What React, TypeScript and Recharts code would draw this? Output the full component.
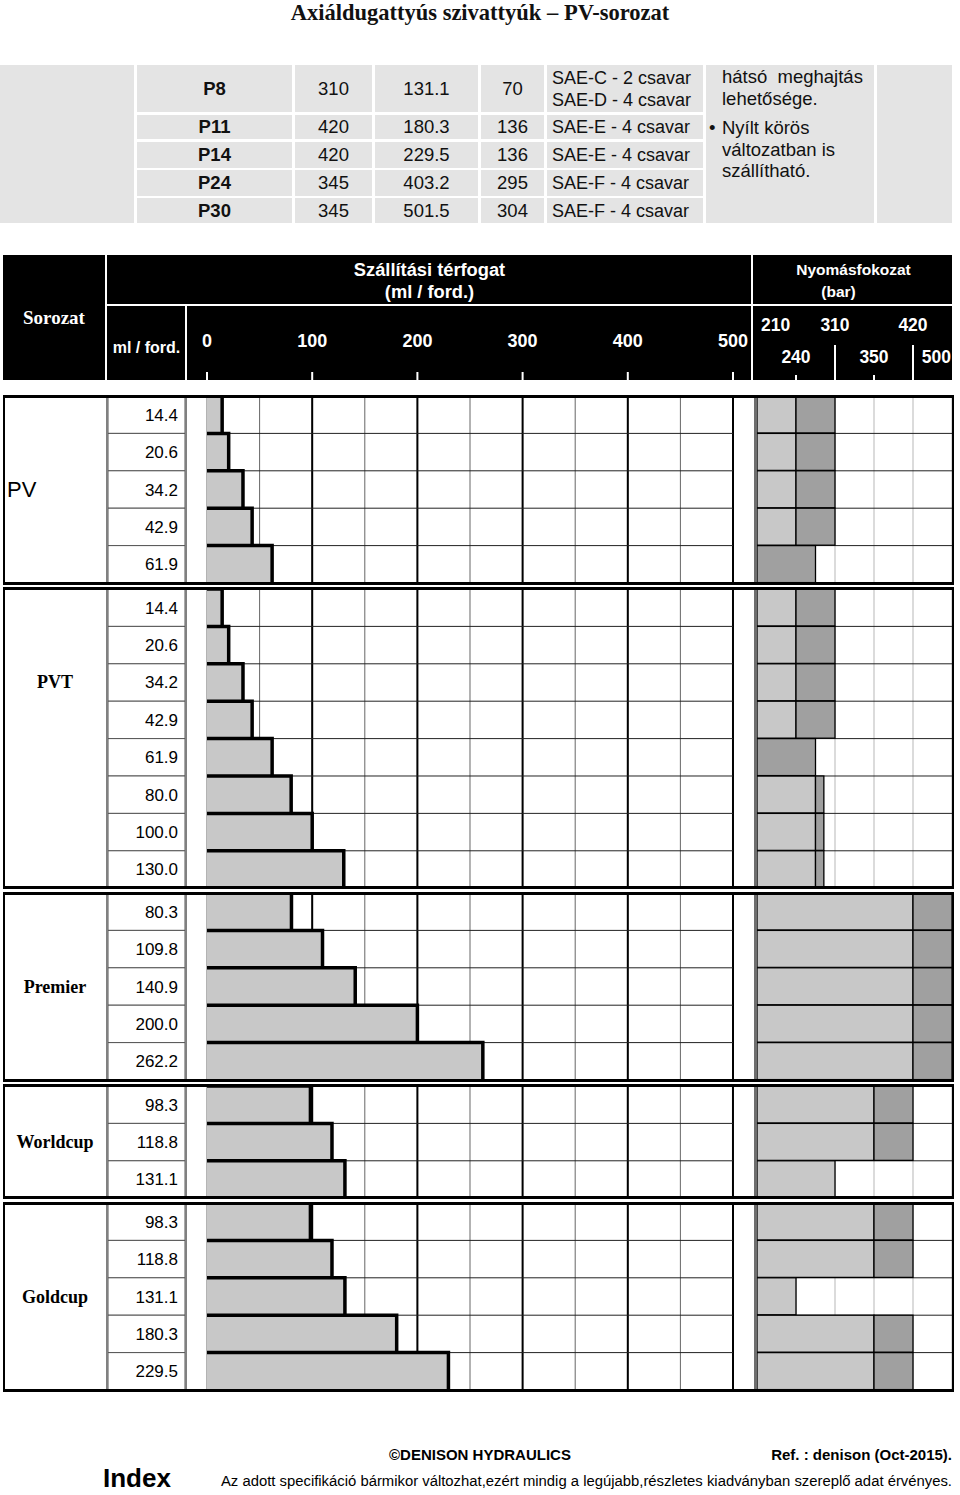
import React from "react";
import { BarChart, Bar, XAxis, YAxis, CartesianGrid } from "recharts";

// ---- data ----
const groupNames = ["PV", "PVT", "Premier", "Worldcup", "Goldcup"];

const pvDisp = [14.4, 20.6, 34.2, 42.9, 61.9];
const pvtDisp = [14.4, 20.6, 34.2, 42.9, 61.9, 80.0, 100.0, 130.0];
const premierDisp = [80.3, 109.8, 140.9, 200.0, 262.2];
const worldcupDisp = [98.3, 118.8, 131.1];
const goldcupDisp = [98.3, 118.8, 131.1, 180.3, 229.5];

// continuous / peak pressure (bar)
const pvCont = [240, 240, 240, 240, 0];
const pvPeak = [310, 310, 310, 310, 275];
const pvtCont = [240, 240, 240, 240, 0, 275, 275, 275];
const pvtPeak = [310, 310, 310, 310, 275, 290, 290, 290];
const premierCont = [420, 420, 420, 420, 420];
const premierPeak = [500, 500, 500, 500, 500];
const worldcupCont = [350, 350, 310];
const worldcupPeak = [420, 420, 310];
const goldcupCont = [350, 350, 240, 350, 350];
const goldcupPeak = [420, 420, 240, 420, 420];

const dispTicks = [0, 100, 200, 300, 400, 500];
const dispMajor = [100, 200, 300, 400, 500];
const dispMinor = [0, 50, 100, 150, 200, 250, 300, 350, 400, 450, 500];
const pressureSteps = [0, 240, 310, 350, 420, 500];
const pressureTopLabels = [210, 310, 420];
const pressureBottomLabels = [240, 350, 500];

const tableModels = ["P8", "P11", "P14", "P24", "P30"];
const tablePressure = ["310", "420", "420", "345", "345"];
const tableDisp = ["131.1", "180.3", "229.5", "403.2", "501.5"];
const tableTorque = ["70", "136", "136", "295", "304"];
const tableMount = [
  ["SAE-C - 2 csavar", "SAE-D - 4 csavar"],
  ["SAE-E - 4 csavar"],
  ["SAE-E - 4 csavar"],
  ["SAE-F - 4 csavar"],
  ["SAE-F - 4 csavar"],
];

// ---- layout ----
const SANS = '"Liberation Sans", Arial, sans-serif';
const SERIF = '"Liberation Serif", "Times New Roman", serif';
const ROW_H = 37.4;
const GAP = 5.5;
const FIRST_TOP = 396;
const LIGHT = "#c8c8c8";
const DARK = "#a0a0a0";

// position of a pressure on the column-based pressure axis
const pIdx = (p: number) => {
  for (let i = 1; i < pressureSteps.length; i++) {
    if (p <= pressureSteps[i]) {
      const a = pressureSteps[i - 1];
      const b = pressureSteps[i];
      return i - 1 + (p - a) / (b - a);
    }
  }
  return pressureSteps.length - 1;
};

const buildRows = (disp: number[], cont: number[], peak: number[]) =>
  disp.map((d, i) => ({
    label: d.toFixed(1),
    disp: d,
    lo: pIdx(cont[i]),
    hi: pIdx(peak[i]) - pIdx(cont[i]),
  }));

const groups = [
  { name: groupNames[0], rows: buildRows(pvDisp, pvCont, pvPeak), labelRows: 5 },
  { name: groupNames[1], rows: buildRows(pvtDisp, pvtCont, pvtPeak), labelRows: 5 },
  { name: groupNames[2], rows: buildRows(premierDisp, premierCont, premierPeak), labelRows: 5 },
  { name: groupNames[3], rows: buildRows(worldcupDisp, worldcupCont, worldcupPeak), labelRows: 3 },
  { name: groupNames[4], rows: buildRows(goldcupDisp, goldcupCont, goldcupPeak), labelRows: 5 },
];

const NoTick = () => <g />;

const DispBar = (p: any) => {
  const { x, y, width, height } = p;
  if (!width || width <= 0) return null;
  return (
    <g>
      <rect x={x} y={y} width={width} height={height} fill={LIGHT} />
      <path d={`M${x},${y} H${x + width} V${y + height}`} fill="none" stroke="#000" strokeWidth={3.5} />
    </g>
  );
};

const PressBar = (p: any) => {
  const { x, y, width, height, fill } = p;
  if (!width || width <= 0.01) return null;
  return <rect x={x} y={y} width={width} height={height} fill={fill} stroke="#000" strokeWidth={1.3} />;
};

const RowLine = (p: any) => {
  const { x, y, width } = p;
  return <line x1={x} x2={x + width} y1={y} y2={y} stroke="#222" strokeWidth={1} />;
};

const ValueCell = (p: any) => {
  const { y, payload, rowH } = p;
  return (
    <g>
      <rect x={0} y={y - rowH / 2} width={77} height={rowH} fill="#fff" stroke="#555" strokeWidth={1} />
      <text x={70} y={y + 6} textAnchor="end" fontFamily={SANS} fontSize={17} fill="#000">
        {payload.value}
      </text>
    </g>
  );
};

function DispChart({ rows, height }: { rows: any[]; height: number }) {
  const rowH = height / rows.length;
  return (
    <BarChart
      layout="vertical"
      width={629}
      height={height}
      data={rows}
      margin={{ top: 0, right: 4, bottom: 0, left: 0 }}
      barCategoryGap={0}
    >
      <XAxis type="number" domain={[0, 500]} ticks={dispMinor} height={0} tick={NoTick} axisLine={false} tickLine={false} interval={0} />
      <YAxis
        type="category"
        dataKey="label"
        width={99}
        axisLine={false}
        tickLine={false}
        interval={0}
        tick={(props: any) => <ValueCell {...props} rowH={rowH} />}
      />
      <CartesianGrid horizontal={false} verticalValues={dispMinor} stroke="#666" strokeWidth={1} />
      <CartesianGrid horizontal={false} verticalValues={dispMajor} stroke="#000" strokeWidth={2} />
      <Bar dataKey="disp" shape={<DispBar />} background={<RowLine />} isAnimationActive={false} />
    </BarChart>
  );
}

function PressChart({ rows, height }: { rows: any[]; height: number }) {
  return (
    <BarChart
      layout="vertical"
      width={197}
      height={height}
      data={rows}
      margin={{ top: 0, right: 2, bottom: 0, left: 0 }}
      barCategoryGap={0}
    >
      <XAxis type="number" domain={[0, 5]} ticks={[0, 1, 2, 3, 4, 5]} height={0} tick={NoTick} axisLine={false} tickLine={false} interval={0} />
      <YAxis type="category" dataKey="label" hide />
      <CartesianGrid horizontal={false} stroke="#cfcfcf" strokeWidth={1.5} />
      <Bar dataKey="lo" stackId="p" fill={LIGHT} shape={<PressBar />} background={<RowLine />} isAnimationActive={false} />
      <Bar dataKey="hi" stackId="p" fill={DARK} shape={<PressBar />} isAnimationActive={false} />
    </BarChart>
  );
}

const headerRow = [{ name: "", v: 0 }];
const pressureHeaderTicks = [...pressureTopLabels, ...pressureBottomLabels].sort((a, b) => a - b);

const DispHeaderTick = (p: any) => {
  const { x, payload } = p;
  return (
    <g>
      <text x={x} y={347} textAnchor="middle" fontFamily={SANS} fontWeight="bold" fontSize={18} fill="#fff">
        {payload.value}
      </text>
      <line x1={x} x2={x} y1={372} y2={380} stroke="#fff" strokeWidth={2} />
    </g>
  );
};

const PressHeaderTick = (p: any) => {
  const { x, index } = p;
  const v = pressureHeaderTicks[index];
  const topRow = pressureTopLabels.includes(v);
  const rowIdx = topRow ? pressureTopLabels.indexOf(v) : pressureBottomLabels.indexOf(v);
  const endAnchor = topRow ? rowIdx === 0 : rowIdx === pressureBottomLabels.length - 1;
  return (
    <g>
      <text
        x={endAnchor ? x - 1 : x}
        y={topRow ? 331 : 363}
        textAnchor={endAnchor ? "end" : "middle"}
        fontFamily={SANS}
        fontWeight="bold"
        fontSize={17.5}
        fill="#fff"
      >
        {v}
      </text>
      {topRow && rowIdx > 0 && <line x1={x} x2={x} y1={345} y2={380} stroke="#fff" strokeWidth={2} />}
      {!topRow && !endAnchor && <line x1={x} x2={x} y1={375} y2={380} stroke="#fff" strokeWidth={2} />}
    </g>
  );
};

const abs = (left: number, top: number, width: number, height: number, extra: React.CSSProperties = {}): React.CSSProperties => ({
  position: "absolute",
  left,
  top,
  width,
  height,
  boxSizing: "border-box",
  ...extra,
});

const tableCols = [
  [0, 134],
  [137, 292],
  [295, 372],
  [375, 478],
  [481, 544],
  [547, 703],
  [706, 874],
  [877, 952],
];
const tableRowsY = [
  [65, 112],
  [115, 139],
  [142, 168],
  [170, 196],
  [198, 223],
];

function TopTable() {
  const cellBg = "#e4e4e4";
  const txt: React.CSSProperties = { fontFamily: SANS, fontSize: 18.5, color: "#111" };
  const spanCols = [0, 6, 7];
  return (
    <>
      {spanCols.map((c) => (
        <div key={"s" + c} style={abs(tableCols[c][0], 65, tableCols[c][1] - tableCols[c][0], 158, { background: cellBg })} />
      ))}
      {tableRowsY.map(([y0, y1], r) => (
        <React.Fragment key={r}>
          {[1, 2, 3, 4, 5].map((c) => {
            const content =
              c === 1 ? tableModels[r] : c === 2 ? tablePressure[r] : c === 3 ? tableDisp[r] : c === 4 ? tableTorque[r] : null;
            return (
              <div
                key={c}
                style={abs(tableCols[c][0], y0, tableCols[c][1] - tableCols[c][0], y1 - y0, {
                  background: cellBg,
                  display: "flex",
                  alignItems: "center",
                  justifyContent: c === 5 ? "flex-start" : "center",
                  paddingLeft: c === 5 ? 5 : 0,
                  ...txt,
                  fontSize: c === 5 ? 18 : 18.5,
                  fontWeight: c === 1 ? "bold" : "normal",
                  lineHeight: "22px",
                })}
              >
                {c === 5 ? (
                  <div>
                    {tableMount[r].map((m) => (
                      <div key={m}>{m}</div>
                    ))}
                  </div>
                ) : (
                  content
                )}
              </div>
            );
          })}
        </React.Fragment>
      ))}
      <div style={abs(722, 66, 150, 160, { ...txt, lineHeight: "21.5px" })}>
        <div>hátsó&nbsp; meghajtás</div>
        <div>lehetősége.</div>
        <div style={{ marginTop: 8, position: "relative" }}>
          <span style={{ position: "absolute", left: -13 }}>•</span>Nyílt körös
        </div>
        <div>változatban is</div>
        <div>szállítható.</div>
      </div>
    </>
  );
}

function Header() {
  const white = "#fff";
  const hTxt: React.CSSProperties = { fontFamily: SANS, fontWeight: "bold", fontSize: 18.3, color: white, textAlign: "center", lineHeight: "22px" };
  return (
    <>
      <div style={abs(3, 255, 949, 125, { background: "#000" })} />
      <div style={abs(105, 255, 2, 125, { background: white })} />
      <div style={abs(751, 255, 2, 125, { background: white })} />
      <div style={abs(107, 304, 845, 2, { background: white })} />
      <div style={abs(185, 306, 2, 74, { background: white })} />
      <div style={abs(3, 307, 102, 24, { fontFamily: SERIF, fontWeight: "bold", fontSize: 19, color: white, textAlign: "center" })}>
        Sorozat
      </div>
      <div style={abs(108, 259, 643, 46, hTxt)}>
        <div>Szállítási térfogat</div>
        <div>(ml / ford.)</div>
      </div>
      <div style={abs(753, 259, 199, 46, { ...hTxt, fontSize: 15.5 })}>
        <div style={{ marginLeft: 2 }}>Nyomásfokozat</div>
        <div style={{ marginRight: 28 }}>(bar)</div>
      </div>
      <div style={abs(108, 337, 77, 22, { ...hTxt, fontSize: 16 })}>ml / ford.</div>
      <div style={abs(108, 0, 643, 380)}>
        <BarChart layout="vertical" width={643} height={380} data={headerRow} margin={{ top: 0, right: 18, bottom: 0, left: 99 }}>
          <XAxis type="number" domain={[0, 500]} ticks={dispTicks} height={1} axisLine={false} tickLine={false} tick={<DispHeaderTick />} interval={0} />
          <YAxis type="category" dataKey="name" hide />
          <Bar dataKey="v" fill="none" isAnimationActive={false} />
        </BarChart>
      </div>
      <div style={abs(757, 0, 197, 380)}>
        <BarChart layout="vertical" width={197} height={380} data={headerRow} margin={{ top: 0, right: 2, bottom: 0, left: 0 }}>
          <XAxis
            type="number"
            domain={[0, 5]}
            ticks={pressureHeaderTicks.map(pIdx)}
            height={1}
            axisLine={false}
            tickLine={false}
            tick={<PressHeaderTick />}
            interval={0}
          />
          <YAxis type="category" dataKey="name" hide />
          <Bar dataKey="v" fill="none" isAnimationActive={false} />
        </BarChart>
      </div>
    </>
  );
}

export default function App() {
  let top = FIRST_TOP;
  const placed = groups.map((g) => {
    const h = g.rows.length * ROW_H;
    const item = { ...g, top, h };
    top += h + GAP;
    return item;
  });

  return (
    <div style={{ position: "absolute", left: 0, top: 0, width: 960, height: 1495, background: "#fff", overflow: "hidden" }}>
      <div style={abs(0, 0, 960, 28, { fontFamily: SERIF, fontWeight: "bold", fontSize: 22.5, textAlign: "center", color: "#111" })}>
        Axiáldugattyús szivattyúk – PV-sorozat
      </div>

      <TopTable />
      <Header />

      {placed.map((g) => (
        <React.Fragment key={g.name}>
          <div style={abs(108, g.top, 629, g.h)}>
            <DispChart rows={g.rows} height={g.h} />
          </div>
          <div style={abs(757, g.top, 197, g.h)}>
            <PressChart rows={g.rows} height={g.h} />
          </div>
          <div style={abs(754, g.top, 3, g.h, { background: "#6e6e6e" })} />
          <div style={abs(106, g.top, 2, g.h, { background: "#808080" })} />
          <div style={abs(185, g.top, 2, g.h, { background: "#808080" })} />
          <div
            style={abs(
              4,
              g.top + (g.labelRows * ROW_H) / 2 - 14,
              102,
              28,
              g.name === "PV"
                ? { fontFamily: SANS, fontSize: 22, paddingLeft: 3, lineHeight: "28px" }
                : { fontFamily: SERIF, fontWeight: "bold", fontSize: 18, textAlign: "center", lineHeight: "28px" }
            )}
          >
            {g.name}
          </div>
          <div
            style={abs(3, g.top - 1.5, 951, g.h + 3, {
              borderTop: "3px solid #000",
              borderBottom: "3px solid #000",
              borderLeft: "2px solid #000",
              borderRight: "2.5px solid #000",
              pointerEvents: "none",
            })}
          />
        </React.Fragment>
      ))}

      <div style={abs(300, 1446, 360, 20, { fontFamily: SANS, fontWeight: "bold", fontSize: 15, textAlign: "center" })}>
        ©DENISON HYDRAULICS
      </div>
      <div style={abs(700, 1446, 252, 20, { fontFamily: SANS, fontWeight: "bold", fontSize: 15, textAlign: "right" })}>
        Ref. : denison (Oct-2015).
      </div>
      <div style={abs(103, 1463, 80, 34, { fontFamily: SANS, fontWeight: "bold", fontSize: 26 })}>Index</div>
      <div style={abs(200, 1473, 752, 20, { fontFamily: SANS, fontSize: 14.85, textAlign: "right", whiteSpace: "nowrap" })}>
        Az adott specifikáció bármikor változhat,ezért mindig a legújabb,részletes kiadványban szereplő adat érvényes.
      </div>
    </div>
  );
}
